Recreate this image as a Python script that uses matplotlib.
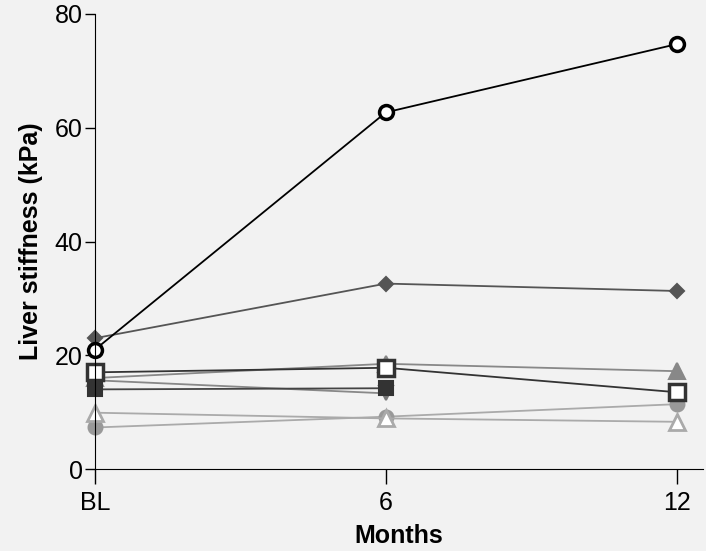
import matplotlib
matplotlib.use('Agg')
import matplotlib.pyplot as plt

plt.rcParams['font.family'] = ['Liberation Sans', 'DejaVu Sans']

months = [0, 6, 12]
tick_labels = ['BL', '6', '12']

# liver stiffness (kPa) per patient
open_circle = [21.0, 62.7, 74.7]
diamond = [23.0, 32.6, 31.3]
open_square = [17.0, 17.8, 13.5]
tri_up = [16.0, 18.5, 17.2]
tri_down = [15.6, 13.3]
filled_square = [14.0, 14.2]
open_tri = [9.9, 8.9, 8.3]
circle = [7.3, 9.2, 11.4]

bg = '#f2f2f2'
fig = plt.figure(figsize=(7.06, 5.51), dpi=100, facecolor=bg)
ax = fig.add_axes([0.1346, 0.1488, 0.861, 0.8258])
ax.set_facecolor(bg)

def line(y, marker, color, lc, fill, ms=9, mew=1.5):
    ax.plot(months[:len(y)], y, marker=marker, color=lc, markerfacecolor=fill,
            markeredgecolor=color, markersize=ms, markeredgewidth=mew,
            lw=1.3, clip_on=False)

line(circle, 'o', '#999999', '#aaaaaa', '#999999', ms=10)
line(open_tri, '^', '#aaaaaa', '#aaaaaa', 'white', ms=11, mew=2)
line(tri_down, 'v', '#777777', '#888888', '#777777', ms=10)
line(tri_up, '^', '#888888', '#888888', '#888888', ms=11)
line(filled_square, 's', '#333333', '#444444', '#333333', ms=10)
line(open_square, 's', '#333333', '#333333', 'white', ms=11, mew=2.5)
line(diamond, 'D', '#555555', '#555555', '#555555', ms=7.5)
line(open_circle, 'o', 'black', 'black', 'white', ms=10, mew=2.5)

ax.set_xlim(0, 12.54)
ax.set_ylim(0, 80)
ax.set_xticks(months)
ax.set_xticklabels(tick_labels)
ax.set_yticks([0, 20, 40, 60, 80])
ax.tick_params(axis='both', labelsize=18, color='black', width=1)
ax.tick_params(axis='y', length=7, pad=2)
ax.tick_params(axis='x', length=11, pad=5)
for s in ['top', 'right']:
    ax.spines[s].set_visible(False)
ax.set_xlabel('Months', fontsize=18, fontweight='bold', labelpad=6)
ax.set_ylabel('Liver stiffness (kPa)', fontsize=18, fontweight='bold', labelpad=8)

fig.savefig('out.png', dpi=100, facecolor=bg)
